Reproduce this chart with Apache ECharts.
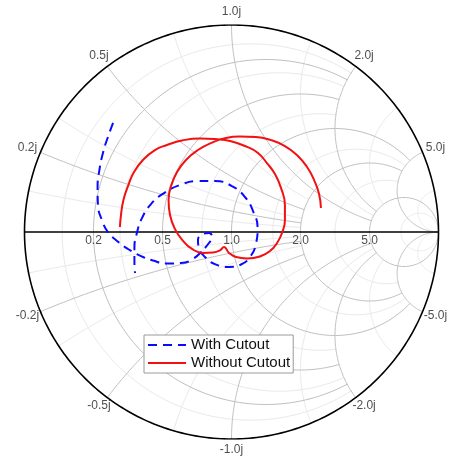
<!DOCTYPE html>
<html>
<head>
<meta charset="utf-8">
<script src="https://cdn.jsdelivr.net/npm/echarts@6/dist/echarts.min.js"></script>
<style>
  html, body { margin: 0; padding: 0; background: #fff; }
  #chart { width: 451px; height: 459px; }
</style>
</head>
<body>
<div id="chart"></div>
<script>
// Reflection coefficient traces: real and imaginary parts along the sweep
const withCutoutRe = [-0.572, -0.597, -0.621, -0.638, -0.647, -0.645, -0.626, -0.597, -0.553, -0.500,
  -0.442, -0.379, -0.312, -0.244, -0.186, -0.143, -0.109, -0.094, -0.109, -0.138,
  -0.162, -0.157, -0.128, -0.080, -0.012, 0.046, 0.089, 0.118, 0.126, 0.104,
  0.065, 0.002, -0.080, -0.167, -0.249, -0.326, -0.389, -0.432, -0.457, -0.469,
  -0.469, -0.466];
const withCutoutIm = [0.527, 0.459, 0.382, 0.300, 0.217, 0.130, 0.058, 0.000, -0.043, -0.082,
  -0.114, -0.138, -0.152, -0.150, -0.130, -0.092, -0.053, -0.024, -0.005, -0.010,
  -0.039, -0.077, -0.121, -0.155, -0.169, -0.157, -0.121, -0.058, 0.019, 0.101,
  0.169, 0.222, 0.246, 0.246, 0.227, 0.188, 0.135, 0.068, -0.005, -0.077,
  -0.140, -0.198];
const withoutCutoutRe = [-0.539, -0.534, -0.522, -0.500, -0.471, -0.428, -0.370, -0.312, -0.239, -0.152,
  -0.080, -0.007, 0.075, 0.128, 0.171, 0.210, 0.239, 0.258, 0.258, 0.244,
  0.220, 0.186, 0.138, 0.075, 0.022, -0.012, -0.036, -0.056, -0.089, -0.138,
  -0.191, -0.234, -0.273, -0.297, -0.304, -0.292, -0.263, -0.220, -0.162, -0.094,
  -0.027, 0.041, 0.118, 0.191, 0.258, 0.316, 0.365, 0.399, 0.423, 0.432];
const withoutCutoutIm = [0.024, 0.082, 0.155, 0.222, 0.290, 0.348, 0.396, 0.420, 0.442, 0.452,
  0.449, 0.440, 0.411, 0.382, 0.333, 0.280, 0.213, 0.130, 0.058, -0.005,
  -0.053, -0.092, -0.118, -0.128, -0.121, -0.101, -0.072, -0.089, -0.099, -0.101,
  -0.082, -0.043, 0.014, 0.082, 0.155, 0.222, 0.290, 0.348, 0.396, 0.432,
  0.454, 0.461, 0.459, 0.444, 0.415, 0.372, 0.314, 0.251, 0.184, 0.116];

const seriesNames = ['With Cutout', 'Without Cutout'];

// Smith chart grid: normalized resistance circles and reactance arcs
const resistanceTicks = [0.2, 0.5, 1.0, 2.0, 5.0];
const resistanceTickLabels = ['0.2', '0.5', '1.0', '2.0', '5.0'];
const reactanceTicks = [0.2, 0.5, 1.0, 2.0, 5.0, -0.2, -0.5, -1.0, -2.0, -5.0];
const reactanceTickLabels = ['0.2j', '0.5j', '1.0j', '2.0j', '5.0j', '-0.2j', '-0.5j', '-1.0j', '-2.0j', '-5.0j'];
// each major line stops where it meets this value of the other family
const majorTicks = [0.2, 0.5, 1.0, 2.0, 5.0];
const majorLimits = [2, 2, 5, 5, Infinity];
const minorTicks = [0.1, 0.3, 0.75, 1.5, 3, 10];
const minorLimits = [2, 2, 2, 5, 5, Infinity];

// z = r + jx  ->  Γ = (z - 1) / (z + 1)
function gamma(r, x) {
  const d = (r + 1) * (r + 1) + x * x;
  return [(r * r + x * x - 1) / d, 2 * x / d];
}

function resistanceArc(r, xLimit, n) {
  const c = r / (1 + r), rho = 1 / (1 + r);
  let phi0 = 0;
  if (isFinite(xLimit)) {
    const g = gamma(r, xLimit);
    phi0 = Math.atan2(g[1], g[0] - c);
  }
  const pts = [];
  for (let i = 0; i <= n; i++) {
    const p = phi0 + (2 * Math.PI - 2 * phi0) * i / n;
    pts.push([c + rho * Math.cos(p), rho * Math.sin(p)]);
  }
  return pts;
}

function reactanceArc(x, rLimit, n) {
  const cy = 1 / x, rho = Math.abs(1 / x);
  const g0 = gamma(0, x);
  const g1 = isFinite(rLimit) ? gamma(rLimit, x) : [1, 0];
  const a0 = Math.atan2(g0[1] - cy, g0[0] - 1);
  const a1 = Math.atan2(g1[1] - cy, g1[0] - 1);
  let da = a1 - a0;
  while (da > Math.PI) da -= 2 * Math.PI;
  while (da < -Math.PI) da += 2 * Math.PI;
  const pts = [];
  for (let i = 0; i <= n; i++) {
    const a = a0 + da * i / n;
    pts.push([1 + rho * Math.cos(a), cy + rho * Math.sin(a)]);
  }
  return pts;
}

function gridFamily(ticks, limits) {
  const out = [];
  ticks.forEach((t, i) => {
    out.push({ coords: resistanceArc(t, limits[i], 160) });
    out.push({ coords: reactanceArc(t, limits[i], 120) });
    out.push({ coords: reactanceArc(-t, limits[i], 120) });
  });
  return out;
}

const unitCircle = [];
for (let i = 0; i <= 360; i++) {
  const a = i * Math.PI / 180;
  unitCircle.push([Math.cos(a), Math.sin(a)]);
}

const zip = (re, im) => re.map((v, i) => [v, im[i]]);

const labelFont = { fontFamily: 'Liberation Sans, Arial, sans-serif', fontSize: 12, color: '#222' };

const resistanceLabelData = resistanceTicks.map((r, i) => ({
  value: [gamma(r, 0)[0], 0],
  name: resistanceTickLabels[i],
  label: { offset: [0, 9] }
}));
const reactanceLabelData = reactanceTicks.map((x, i) => {
  const g = gamma(0, x);
  return {
    value: g,
    name: reactanceTickLabels[i],
    label: { offset: [14 * g[0], (g[1] > 0 ? -13 : -10.5) * g[1]] }
  };
});

const chart = echarts.init(document.getElementById('chart'), null, { renderer: 'canvas' });
chart.setOption({
  animation: false,
  backgroundColor: '#fff',
  grid: { left: 24.5, top: 25, width: 414, height: 414, containLabel: false },
  xAxis: { type: 'value', min: -1, max: 1, show: false },
  yAxis: { type: 'value', min: -1, max: 1, show: false },
  legend: {
    data: seriesNames,
    orient: 'vertical',
    left: 144,
    top: 335,
    padding: [2, 3, 2, 3],
    itemWidth: 38,
    itemHeight: 14,
    itemGap: 2,
    borderColor: '#9a9a9a',
    borderWidth: 1,
    backgroundColor: '#fff',
    itemStyle: { opacity: 0, borderWidth: 0 },
    textStyle: { fontFamily: 'Liberation Sans, Arial, sans-serif', fontSize: 15, color: '#111', lineHeight: 16 }
  },
  series: [
    {
      type: 'lines', coordinateSystem: 'cartesian2d', polyline: true, silent: true, z: 1,
      lineStyle: { color: '#e9e9e9', width: 1, opacity: 1 },
      data: gridFamily(minorTicks, minorLimits)
    },
    {
      type: 'lines', coordinateSystem: 'cartesian2d', polyline: true, silent: true, z: 2,
      lineStyle: { color: '#bfbfbf', width: 1, opacity: 1 },
      data: gridFamily(majorTicks, majorLimits)
    },
    {
      type: 'lines', coordinateSystem: 'cartesian2d', polyline: true, silent: true, z: 3,
      lineStyle: { color: '#000', width: 1.6, opacity: 1 },
      data: [{ coords: unitCircle }, { coords: [[-1, 0], [1, 0]] }]
    },
    {
      name: seriesNames[0], type: 'line', z: 5, symbol: 'none', smooth: 0.5,
      lineStyle: { color: '#0a0aff', width: 2, type: [9, 6] },
      itemStyle: { color: '#0a0aff' },
      data: zip(withCutoutRe, withCutoutIm)
    },
    {
      name: seriesNames[1], type: 'line', z: 6, symbol: 'none', smooth: 0.5,
      lineStyle: { color: '#f21010', width: 2 },
      itemStyle: { color: '#f21010' },
      data: zip(withoutCutoutRe, withoutCutoutIm)
    },
    {
      type: 'scatter', z: 7, silent: true, symbolSize: 0,
      label: { show: true, position: 'inside', formatter: p => p.name, ...labelFont },
      data: resistanceLabelData.concat(reactanceLabelData)
    }
  ]
});
</script>
</body>
</html>
